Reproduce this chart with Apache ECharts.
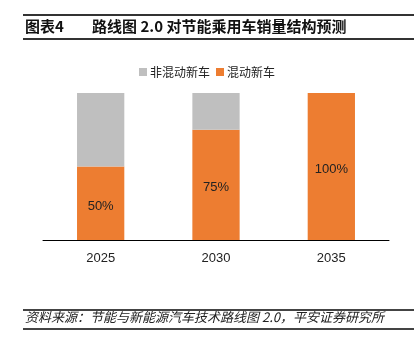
<!DOCTYPE html>
<html style="height: 100%">
<head>
<meta charset="utf-8">
<script src="https://cdn.jsdelivr.net/npm/echarts@6/dist/echarts.min.js"></script>
</head>
<body style="height: 100%; margin: 0; background: #fff">
<div id="container" style="width: 414px; height: 350px"></div>
<script type="text/javascript">
var years = ['2025', '2030', '2035'];
var hybrid = [50, 75, 100];
var nonHybrid = [50, 25, 0];

var font = '"Noto Sans CJK SC", "Liberation Sans", sans-serif';

var myChart = echarts.init(document.getElementById('container'));
var option = {
    backgroundColor: '#fff',
    animation: false,
    textStyle: { fontFamily: font },
    grid: { left: 43, right: 25, top: 93, bottom: 110 },
    legend: {
        data: ['非混动新车', '混动新车'],
        top: 61,
        left: 'center',
        icon: 'rect',
        itemWidth: 8,
        itemHeight: 8,
        itemGap: 6,
        textStyle: { fontSize: 12, color: '#222', fontFamily: font, padding: [0, 0, 0, -2] }
    },
    xAxis: {
        type: 'category',
        data: years,
        axisLine: { lineStyle: { color: '#000', width: 1 } },
        axisTick: { inside: true, length: 4, lineStyle: { color: '#000' } },
        axisLabel: { color: '#222', fontSize: 13, margin: 12, fontFamily: '"Liberation Sans", sans-serif' }
    },
    yAxis: {
        type: 'value',
        min: 0,
        max: 100,
        show: false
    },
    series: [{
        name: '混动新车',
        type: 'bar',
        stack: 'total',
        barWidth: '41%',
        data: hybrid,
        itemStyle: { color: '#ED7D31' },
        label: {
            show: true,
            position: 'inside',
            offset: [0, 3],
            formatter: '{c}%',
            color: '#222',
            fontSize: 13,
            fontFamily: '"Liberation Sans", sans-serif'
        }
    }, {
        name: '非混动新车',
        type: 'bar',
        stack: 'total',
        data: nonHybrid,
        itemStyle: { color: '#BFBFBF' }
    }],
    graphic: [
        { type: 'rect', shape: { x: 23, y: 14, width: 391, height: 2 }, style: { fill: '#333' } },
        { type: 'rect', shape: { x: 23, y: 38, width: 391, height: 2 }, style: { fill: '#333' } },
        { type: 'text', left: 25, top: 19, style: { text: '图表4', font: 'bold 15px ' + font, fill: '#111' } },
        { type: 'text', left: 92, top: 19, style: { text: '路线图 2.0 对节能乘用车销量结构预测', font: 'bold 15px ' + font, fill: '#111' } },
        { type: 'rect', shape: { x: 23, y: 309, width: 391, height: 2 }, style: { fill: '#444' } },
        { type: 'rect', shape: { x: 23, y: 328, width: 391, height: 2 }, style: { fill: '#444' } },
        { type: 'text', left: 25, top: 311, style: { text: '资料来源：节能与新能源汽车技术路线图 2.0，平安证券研究所', font: 'italic 13px ' + font, fill: '#222' } }
    ]
};
myChart.setOption(option);
</script>
</body>
</html>
